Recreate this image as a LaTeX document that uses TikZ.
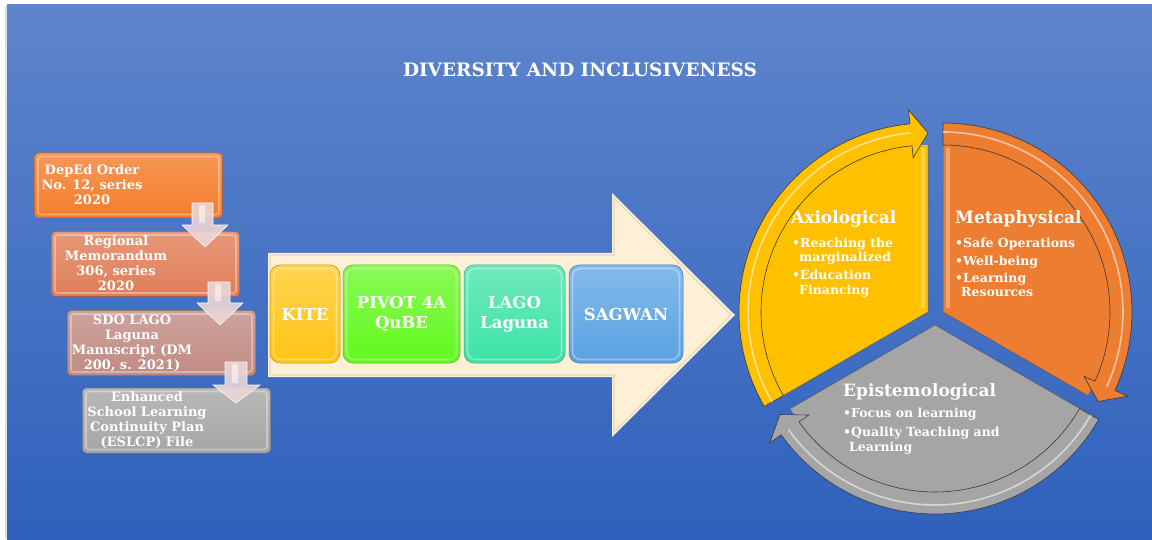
\documentclass[tikz,border=0pt]{standalone}
\usepackage{fontspec}
\setmainfont{DejaVu Serif}
\usetikzlibrary{calc}
\definecolor{bgtop}{HTML}{5E85CC}
\definecolor{bgbot}{HTML}{2F61BC}
\definecolor{cream}{HTML}{FDF0D6}
\definecolor{creamedge}{HTML}{E2CFAE}
\definecolor{c1}{HTML}{F47D2C}
\definecolor{c2}{HTML}{DF7E58}
\definecolor{c3}{HTML}{C18B83}
\definecolor{c4}{HTML}{A6A6A6}
\definecolor{kite}{HTML}{FFC514}
\definecolor{pivot}{HTML}{62F81E}
\definecolor{lago}{HTML}{3DE2A6}
\definecolor{sagwan}{HTML}{5AA2E2}
\definecolor{axio}{HTML}{FFC000}
\definecolor{meta}{HTML}{ED7D31}
\definecolor{epis}{HTML}{A5A5A5}
\definecolor{darr}{HTML}{EBD6D6}
\definecolor{segline}{HTML}{3A3A3A}
\newcommand{\cycseg}[5]{%
  \begin{scope}[shift={(#1)}]
    \fill[#5] (0,0) -- (#2:167) arc[start angle=#2, end angle=#3, radius=167] -- cycle;
    \draw[segline, line width=0.5, opacity=.6] (#3:167) -- (0,0) -- (#2:167);
    \draw[segline, line width=0.6, fill=#5] (#2:189) arc[start angle=#2, end angle=#4, radius=189]
      -- (#4:203) -- (#3:179) -- (#4:155) -- (#4:167)
      arc[start angle=#4, end angle=#2, radius=167] -- cycle;
    \draw[white, opacity=.55, line width=1.6] (#2:180) arc[start angle=#2, end angle=#4, radius=180];
  \end{scope}}
\tikzset{
  innerframe/.style={path picture={\draw[white, opacity=.35, line width=1.6, rounded corners=#1]
      ([shift={(3.5,3.5)}]path picture bounding box.south west) rectangle
      ([shift={(-3.5,-3.5)}]path picture bounding box.north east);}},
  docbox/.style={rectangle, rounded corners=4, minimum width=188, minimum height=65, inner sep=0,
      draw=#1!75!black, line width=0.5, top color=#1!80!white, bottom color=#1, innerframe=3},
  doctext/.style={text=white, align=center, font=\bfseries\fontsize{13}{15}\selectfont, inner sep=0},
  stepbox/.style={rectangle, rounded corners=10, minimum height=98, inner sep=0,
      draw=#1!75!black, line width=0.5, top color=#1!75!white, bottom color=#1, innerframe=8,
      text=white, align=center, font=\bfseries\fontsize{16.5}{19.5}\selectfont},
  downarrow/.style={fill=darr, opacity=.9, draw=white, line width=0.6},
  segtitle/.style={text=white, anchor=base west, inner sep=0, font=\bfseries\fontsize{17}{20}\selectfont},
  segitem/.style={text=white, anchor=base west, inner sep=0, font=\bfseries\fontsize{12.5}{14.5}\selectfont},
}
\begin{document}
\begin{tikzpicture}[x=1pt, y=1pt]
  \useasboundingbox (0,0) rectangle (1152,539);
  \fill[white] (0,0) rectangle (1152,539);
  \fill[black!12] (5,0) rectangle (7,534);
  \shade[top color=bgtop, bottom color=bgbot] (7,0) rectangle (1152,534);
  % title
  \node[text=white, inner sep=0, font=\bfseries\fontsize{18.5}{22}\selectfont] (title) at (580,469.5) {DIVERSITY AND INCLUSIVENESS};
  % big arrow
  \fill[cream] (268,286) -- (612,286) -- (612,346) -- (735,224) -- (612,102) -- (612,162) -- (268,162) -- cycle;
  \draw[creamedge, line width=1.2, opacity=.7] (270,284) -- (614,284) -- (614,341) -- (731,224) -- (614,107) -- (614,164) -- (270,164) -- cycle;
  % step boxes
  \node[stepbox=kite, minimum width=70] (kite) at (305,225) {KITE};
  \node[stepbox=pivot, minimum width=117] (pivot) at (401.5,225) {PIVOT 4A\\QuBE};
  \node[stepbox=lago, minimum width=101] (lago) at (514.5,225) {LAGO\\Laguna};
  \node[stepbox=sagwan, minimum width=114] (sagwan) at (626,225) {SAGWAN};
  % document boxes
  \node[docbox=c1] (b1) at (128.5,353.5) {};
  \node[docbox=c2] (b2) at (145.5,275) {};
  \node[docbox=c3] (b3) at (161.5,196) {};
  \node[docbox=c4] (b4) at (176.5,118.5) {};
  \node[doctext] (t1) at (92,354.5) {DepEd Order\\No. 12, series\\2020};
  \node[doctext] (t2) at (116,275.5) {Regional\\Memorandum\\306, series\\2020};
  \node[doctext] (t3) at (132,195.5) {SDO LAGO\\Laguna\\Manuscript (DM\\200, s. 2021)};
  \node[doctext] (t4) at (147,118.5) {Enhanced\\School Learning\\Continuity Plan\\(ESLCP) File};
  % down arrows
  \draw[downarrow] (192,336) -- (213,336) -- (213,314) -- (228,314) -- (205,292) -- (182,314) -- (192,314) -- cycle;
  \draw[downarrow] (208,257) -- (230,257) -- (230,236) -- (243,236) -- (220,214) -- (197,236) -- (208,236) -- cycle;
  \draw[downarrow] (225,177) -- (247,177) -- (247,154) -- (260,154) -- (236,136) -- (213,154) -- (225,154) -- cycle;
  \fill[white, opacity=.5] (199,334) rectangle (205,316);
  \fill[white, opacity=.5] (215,255) rectangle (221,238);
  \fill[white, opacity=.5] (232,175) rectangle (238,156);
  % cycle
  \coordinate (ya) at (928,227);
  \coordinate (oa) at (943,227);
  \coordinate (ga) at (935,214);
  \cycseg{ya}{210}{90}{95.5}{axio}
  \cycseg{oa}{90}{-30}{-24.5}{meta}
  \cycseg{ga}{-30}{-150}{-144.5}{epis}
  \fill[axio!55!white, opacity=.7] ($(ya)+(-7,4)$) rectangle ($(ya)+(-3,164)$);
  \fill[meta!55!white, opacity=.7] ($(oa)+(3,4)$) rectangle ($(oa)+(7,164)$);
  % cycle texts
  \node[segtitle] (axt) at (791,315) {Axiological};
  \node[segitem] (ax1) at (792,291.4) {•Reaching the};
  \node[segitem] (ax1b) at (799,277.4) {marginalized};
  \node[segitem] (ax2) at (792,259.4) {•Education};
  \node[segitem] (ax2b) at (799,244.4) {Financing};
  \node[segtitle] (mt) at (955,315) {Metaphysical};
  \node[segitem] (m1) at (955,291.4) {•Safe Operations};
  \node[segitem] (m2) at (955,273.4) {•Well-being};
  \node[segitem] (m3) at (955,256.4) {•Learning};
  \node[segitem] (m3b) at (961,242.4) {Resources};
  \node[segtitle] (et) at (843,143) {Epistemological};
  \node[segitem] (e1) at (843,121.4) {•Focus on learning};
  \node[segitem] (e2) at (843,102.4) {•Quality Teaching and};
  \node[segitem] (e2b) at (849,87.4) {Learning};
\end{tikzpicture}
\end{document}
